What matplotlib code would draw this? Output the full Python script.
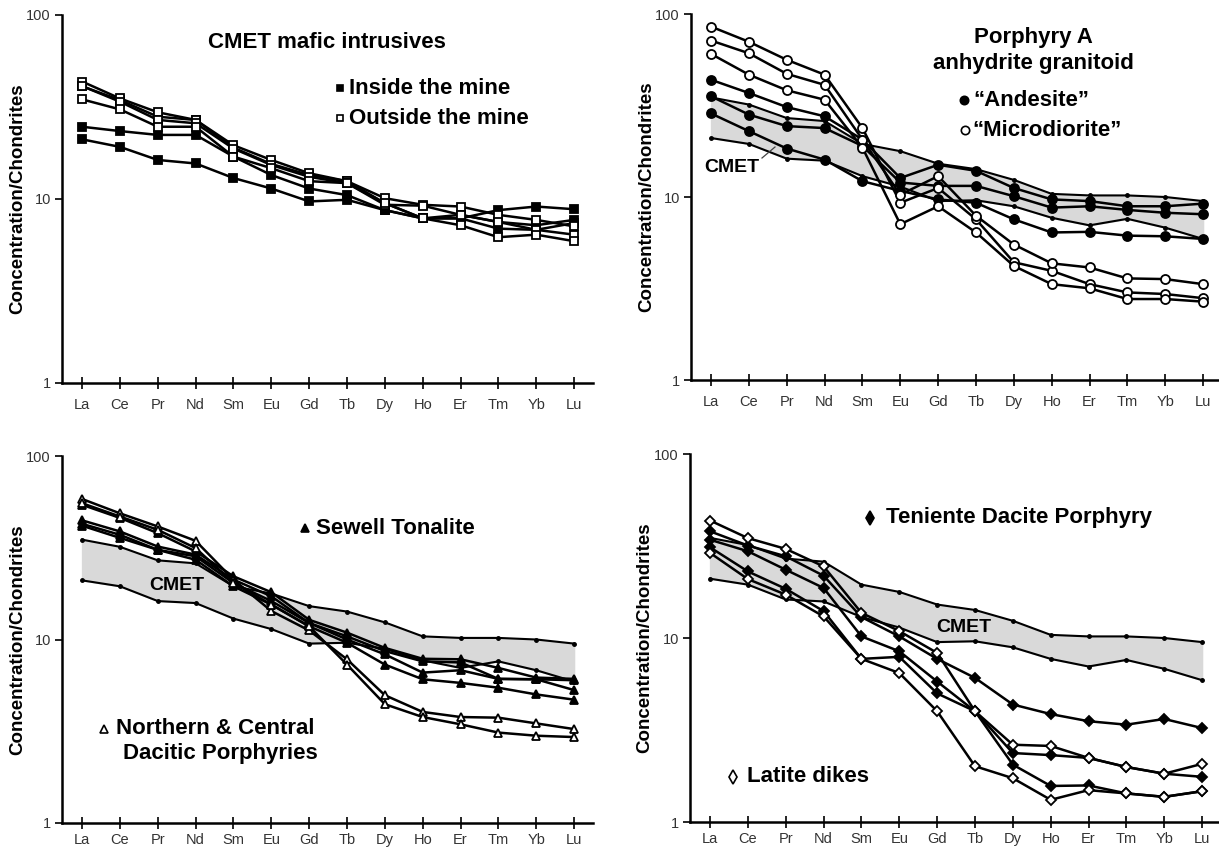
import numpy as np
import matplotlib
matplotlib.use("Agg")
import matplotlib.pyplot as plt
from matplotlib.lines import Line2D

plt.rcParams['font.family'] = ['Liberation Sans', 'DejaVu Sans']

ree = ['La', 'Ce', 'Pr', 'Nd', 'Sm', 'Eu', 'Gd', 'Tb', 'Dy', 'Ho', 'Er', 'Tm', 'Yb', 'Lu']

# CMET envelope (shaded band)
cmet_hi = [35, 32, 27, 26, 19.5, 17.8, 15.2, 14.2, 12.4, 10.4, 10.2, 10.2, 10.0, 9.5]
cmet_lo = [21, 19.5, 16.2, 15.8, 13, 11.4, 9.5, 9.6, 8.9, 7.7, 7.0, 7.6, 6.8, 5.9]

# panel 1 - CMET mafic intrusives
inside_1 = [41.0, 34.5, 28.0, 26.9, 19.0, 15.5, 13.5, 12.5, 9.5, 7.85, 7.85, 8.7, 9.1, 8.8]
inside_2 = [24.7, 23.4, 22.3, 22.3, 17.0, 13.5, 11.4, 10.5, 8.7, 7.85, 8.2, 7.5, 7.2, 7.7]
inside_3 = [21.1, 19.2, 16.3, 15.6, 13.0, 11.4, 9.7, 9.9, 8.7, 7.85, 7.85, 6.9, 6.8, 7.4]
outside_1 = [43.5, 35.2, 29.6, 26.9, 19.6, 16.3, 13.8, 12.5, 10.1, 9.3, 9.1, 8.2, 7.7, 7.1]
outside_2 = [41.1, 33.8, 26.9, 25.8, 18.8, 15.3, 13.2, 12.2, 9.3, 9.2, 8.2, 7.5, 6.8, 6.4]
outside_3 = [34.8, 30.7, 24.7, 24.7, 17.0, 14.7, 12.5, 12.2, 9.5, 7.85, 7.2, 6.2, 6.4, 5.9]

# panel 2 - Porphyry A anhydrite granitoid
andesite_1 = [43.7, 37.0, 31.0, 27.6, 20.6, 12.7, 15.0, 13.9, 11.2, 9.7, 9.5, 8.9, 8.9, 9.2]
andesite_2 = [35.5, 28.2, 24.4, 23.8, 19.0, 12.0, 11.5, 11.5, 10.1, 8.75, 8.9, 8.5, 8.2, 8.05]
andesite_3 = [28.6, 22.9, 18.4, 16.0, 12.2, 10.8, 9.7, 9.3, 7.55, 6.4, 6.45, 6.15, 6.1, 5.9]
micro_1 = [85.3, 70.5, 56.2, 46.6, 23.8, 9.3, 11.2, 7.55, 4.4, 3.95, 3.34, 3.01, 2.95, 2.80]
micro_2 = [71.6, 61.0, 47.1, 41.0, 20.6, 10.3, 13.0, 7.9, 5.5, 4.34, 4.12, 3.59, 3.56, 3.34]
micro_3 = [60.5, 46.6, 38.3, 34.0, 18.6, 7.1, 8.9, 6.4, 4.2, 3.34, 3.17, 2.77, 2.77, 2.68]

# panel 3 - Sewell Tonalite / Northern & Central Dacitic Porphyries
sewell_1 = [54.2, 46.0, 38.0, 30.2, 22.1, 18.1, 12.8, 10.9, 9.0, 7.85, 7.8, 7.0, 6.2, 6.1]
sewell_2 = [44.6, 38.8, 32.1, 29.0, 21.2, 17.2, 12.3, 10.4, 8.65, 7.6, 7.5, 6.1, 6.07, 5.3]
sewell_3 = [42.7, 37.2, 30.8, 28.4, 20.3, 16.2, 12.3, 10.0, 8.3, 6.6, 6.8, 6.1, 6.07, 6.0]
sewell_4 = [41.7, 35.8, 30.8, 27.2, 19.5, 15.5, 11.8, 9.6, 7.3, 6.07, 5.8, 5.46, 5.02, 4.7]
northcen_1 = [58.3, 48.7, 41.3, 34.5, 21.2, 14.3, 11.2, 7.8, 4.97, 4.03, 3.78, 3.75, 3.49, 3.25]
northcen_2 = [55.3, 46.8, 39.6, 31.5, 20.3, 15.5, 11.8, 7.3, 4.44, 3.78, 3.45, 3.11, 2.99, 2.94]

# panel 4 - Teniente Dacite Porphyry / Latite dikes
teniente_1 = [38.0, 31.8, 27.8, 21.8, 13.0, 10.2, 7.7, 6.07, 4.35, 3.86, 3.53, 3.38, 3.63, 3.24]
teniente_2 = [34.2, 29.6, 23.5, 18.7, 10.2, 8.47, 5.8, 4.0, 2.37, 2.31, 2.23, 1.99, 1.83, 1.76]
teniente_3 = [31.1, 23.0, 18.5, 14.0, 7.7, 7.9, 5.0, 4.0, 2.05, 1.57, 1.58, 1.43, 1.37, 1.47]
latite_1 = [43.5, 34.9, 30.5, 24.5, 13.7, 10.9, 8.3, 4.0, 2.63, 2.59, 2.23, 1.99, 1.83, 2.07]
latite_2 = [29.0, 20.9, 17.2, 13.1, 7.7, 6.45, 4.0, 2.01, 1.73, 1.32, 1.49, 1.43, 1.37, 1.47]

W, H = 1219, 849
fig = plt.figure(figsize=(W / 100, H / 100), dpi=100)

def fx(px):
    return px / W

def fy(py):
    return 1 - py / H

x = np.arange(len(ree))

def setup(ax, xpad=6, labx=-0.067):
    ax.set_yscale('log')
    ax.set_ylim(1, 100)
    ax.set_xlim(-0.53, 13.5)
    ax.spines['top'].set_visible(False)
    ax.spines['right'].set_visible(False)
    for s in ['left', 'bottom']:
        ax.spines[s].set_linewidth(1.8)
    ax.set_xticks(x)
    ax.set_xticklabels(ree)
    ax.set_yticks([1, 10, 100])
    ax.set_yticklabels(['1', '10', '100'])
    ax.yaxis.set_minor_locator(matplotlib.ticker.NullLocator())
    ax.tick_params(axis='x', direction='inout', length=9, width=1.2, pad=xpad,
                   labelsize=10.5, labelcolor='#333333')
    ax.tick_params(axis='y', direction='out', length=5, width=1.2, pad=3,
                   labelsize=10.5, labelcolor='#333333')
    ax.set_ylabel('Concentration/Chondrites', fontsize=13.5, fontweight='bold')
    ax.yaxis.set_label_coords(labx, 0.5)

def envelope(ax):
    ax.fill_between(x, cmet_lo, cmet_hi, color='#d9d9d9', zorder=1)
    for s in (cmet_hi, cmet_lo):
        ax.plot(x, s, color='black', lw=1.5, marker='o', ms=2.5, zorder=2)

def series(ax, vals, marker, filled, ms=5.5):
    ax.plot(x, vals, color='black', lw=1.8, marker=marker, ms=ms,
            mfc='black' if filled else 'white', mec='black', mew=1.3, zorder=3)

def key(px, py, marker, filled, ms=5.5):
    fig.add_artist(Line2D([fx(px)], [fy(py)], transform=fig.transFigure, marker=marker,
                          ms=ms, mfc='black' if filled else 'white', mec='black', mew=1.2,
                          linestyle='none'))

def label(px, py, s, size=16, ha='left'):
    fig.text(fx(px), fy(py), s, fontsize=size, fontweight='bold', ha=ha, va='center')

# panel 1
ax1 = fig.add_axes([fx(62), fy(383), fx(531), 368 / H])
setup(ax1, labx=-0.067)
for s in (inside_1, inside_2, inside_3):
    series(ax1, s, 's', True)
for s in (outside_1, outside_2, outside_3):
    series(ax1, s, 's', False)
label(327, 43, 'CMET mafic intrusives', ha='center')
key(340, 88, 's', True, ms=5)
label(349, 88, 'Inside the mine')
key(340, 118, 's', False, ms=5)
label(349, 118, 'Outside the mine')

# panel 2
ax2 = fig.add_axes([fx(691), fy(380), fx(531), 366 / H])
setup(ax2, labx=-0.068)
envelope(ax2)
for s in (andesite_1, andesite_2, andesite_3):
    series(ax2, s, 'o', True, ms=6.5)
for s in (micro_1, micro_2, micro_3):
    series(ax2, s, 'o', False, ms=6.5)
label(1033, 38, 'Porphyry A', ha='center')
label(1033, 64, 'anhydrite granitoid', ha='center')
key(964, 100, 'o', True, ms=6)
label(973, 100, '\u201cAndesite\u201d')
key(965, 130, 'o', False, ms=6)
label(972, 130, '\u201cMicrodiorite\u201d')
fig.text(fx(732), fy(168), 'CMET', fontsize=14, fontweight='bold', ha='center', va='center')
fig.add_artist(Line2D([fx(762), fx(775)], [fy(158), fy(147)], transform=fig.transFigure,
                      color='#444444', lw=0.9))

# panel 3
ax3 = fig.add_axes([fx(62), fy(823), fx(531), 367 / H])
setup(ax3, xpad=3, labx=-0.067)
envelope(ax3)
for s in (sewell_1, sewell_2, sewell_3, sewell_4):
    series(ax3, s, '^', True)
for s in (northcen_1, northcen_2):
    series(ax3, s, '^', False)
key(305, 528, '^', True, ms=5.5)
label(316, 528, 'Sewell Tonalite')
key(104, 729, '^', False, ms=5.5)
label(116, 729, 'Northern & Central')
label(123, 754, 'Dacitic Porphyries')
fig.text(fx(177), fy(585), 'CMET', fontsize=14, fontweight='bold', ha='center', va='center')

# panel 4
ax4 = fig.add_axes([fx(690), fy(822), fx(531), 368 / H])
setup(ax4, xpad=3, labx=-0.07)
envelope(ax4)
for s in (teniente_1, teniente_2, teniente_3):
    series(ax4, s, 'D', True, ms=5.5)
for s in (latite_1, latite_2):
    series(ax4, s, 'D', False, ms=5.5)
key(870, 518, 'd', True, ms=7.5)
label(886, 518, 'Teniente Dacite Porphyry')
key(733, 777, 'd', False, ms=7.5)
label(747, 777, 'Latite dikes')
fig.text(fx(964), fy(628), 'CMET', fontsize=14, fontweight='bold', ha='center', va='center')

fig.savefig('out.png', dpi=100)
